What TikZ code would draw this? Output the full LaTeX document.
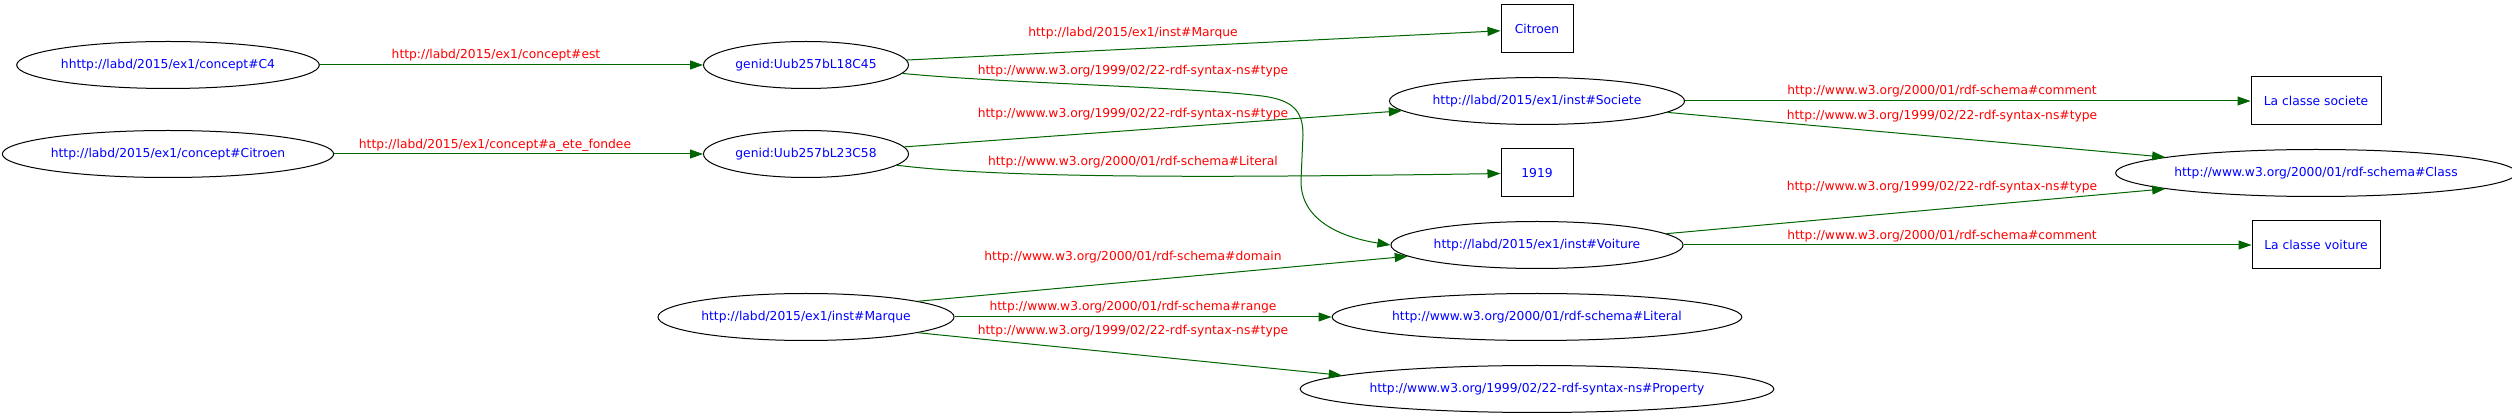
\documentclass[tikz,border=0pt]{standalone}
\usepackage{fontspec}
\setmainfont{DejaVu Sans}
\usepackage{tikz}
\usetikzlibrary{arrows.meta,shapes.geometric}
\definecolor{edgegreen}{RGB}{0,100,0}
\definecolor{urlblue}{RGB}{0,0,255}
\definecolor{predred}{RGB}{255,0,0}

\begin{document}
\begin{tikzpicture}[x=1pt, y=-1pt,
    every node/.style={font=\fontsize{12.3pt}{14pt}\selectfont, inner sep=0pt},
    res/.style={ellipse, draw, line width=1pt, text=urlblue, minimum height=47pt},
    lit/.style={rectangle, draw, line width=1pt, text=urlblue, minimum height=48pt},
    pred/.style={text=predred},
    arc/.style={draw=edgegreen, line width=1pt, -{Triangle[length=13pt,width=9pt]}}]
    \useasboundingbox (0,0) rectangle (2512,419);

    % Subjects
    \node[res, minimum width=296pt] (c4) at (168,65) {hhttp://labd/2015/ex1/concept\#C4};
    \node[res, minimum width=322pt] (citC) at (168,154) {http://labd/2015/ex1/concept\#Citroen};
    \node[res, minimum width=205pt] (g1) at (806,65) {genid:Uub257bL18C45};
    \node[res, minimum width=205pt] (g2) at (806,154) {genid:Uub257bL23C58};
    \node[res, minimum width=291pt] (marque) at (806,317) {http://labd/2015/ex1/inst\#Marque};

    % Middle column
    \node[lit, minimum width=72pt] (citB) at (1537,29) {Citroen};
    \node[res, minimum width=291pt] (societe) at (1537,101) {http://labd/2015/ex1/inst\#Societe};
    \node[lit, minimum width=72pt] (annee) at (1537,173) {1919};
    \node[res, minimum width=286pt] (voiture) at (1537,245) {http://labd/2015/ex1/inst\#Voiture};
    \node[res, minimum width=386pt] (literal) at (1537,317) {http://www.w3.org/2000/01/rdf-schema\#Literal};
    \node[res, minimum width=445pt] (property) at (1537,389) {http://www.w3.org/1999/02/22-rdf-syntax-ns\#Property};

    % Right column
    \node[lit, minimum width=130pt] (csoc) at (2316,101) {La classe societe};
    \node[res, minimum width=380pt] (class) at (2316,173) {http://www.w3.org/2000/01/rdf-schema\#Class};
    \node[lit, minimum width=128pt] (cvoit) at (2316,245) {La classe voiture};

    % Edges
    \draw[arc] (c4) -- (g1);
    \draw[arc] (citC) -- (g2);
    \draw[arc] (g1) -- (citB);
    \draw[arc] (g1.-5) .. controls (1000,83) and (1190,87) .. (1262,96)
        .. controls (1294,100) and (1303,112) .. (1303,135) -- (1301,180)
        .. controls (1300,222) and (1345,238) .. (voiture.west);
    \draw[arc] (g2) -- (societe);
    \draw[arc] (g2) .. controls (1000,178) and (1200,178) .. (annee);
    \draw[arc] (marque.8) -- (voiture.185);
    \draw[arc] (marque) -- (literal);
    \draw[arc] (marque.-8) -- (property.176);
    \draw[arc] (societe) -- (csoc);
    \draw[arc] (societe.-5) -- (class.174);
    \draw[arc] (voiture.5) -- (class.186);
    \draw[arc] (voiture) -- (cvoit);

    % Edge labels
    \node[pred] (lEst) at (496,55) {http://labd/2015/ex1/concept\#est};
    \node[pred] (lFond) at (495,145) {http://labd/2015/ex1/concept\#a\_ete\_fondee};
    \node[pred] (lMarque) at (1133,33) {http://labd/2015/ex1/inst\#Marque};
    \node[pred] (lTypeA) at (1133,71) {http://www.w3.org/1999/02/22-rdf-syntax-ns\#type};
    \node[pred] (lTypeB) at (1133,114) {http://www.w3.org/1999/02/22-rdf-syntax-ns\#type};
    \node[pred] (lLit) at (1133,162) {http://www.w3.org/2000/01/rdf-schema\#Literal};
    \node[pred] (lDom) at (1133,257) {http://www.w3.org/2000/01/rdf-schema\#domain};
    \node[pred] (lRange) at (1133,307) {http://www.w3.org/2000/01/rdf-schema\#range};
    \node[pred] (lTypeC) at (1133,331) {http://www.w3.org/1999/02/22-rdf-syntax-ns\#type};
    \node[pred] (lComA) at (1942,91) {http://www.w3.org/2000/01/rdf-schema\#comment};
    \node[pred] (lTypeD) at (1942,116) {http://www.w3.org/1999/02/22-rdf-syntax-ns\#type};
    \node[pred] (lTypeE) at (1942,187) {http://www.w3.org/1999/02/22-rdf-syntax-ns\#type};
    \node[pred] (lComB) at (1942,236) {http://www.w3.org/2000/01/rdf-schema\#comment};
\end{tikzpicture}
\end{document}
